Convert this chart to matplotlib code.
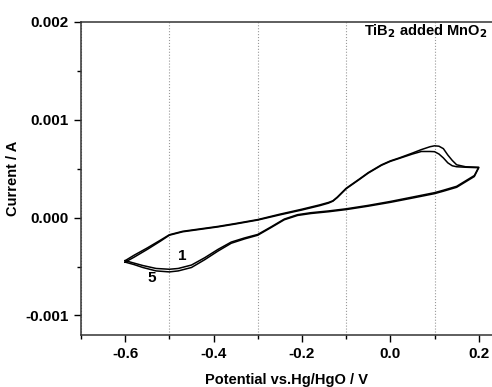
import numpy as np
import matplotlib
matplotlib.use("Agg")
import matplotlib.pyplot as plt
from matplotlib.ticker import MultipleLocator, FormatStrFormatter

plt.rcParams['font.family'] = ['Liberation Sans', 'DejaVu Sans']
plt.rcParams['font.weight'] = 'bold'
plt.rcParams['axes.unicode_minus'] = False

# anodic sweep (-0.6 -> 0.2 V), current in 1e-4 A
fwd_e = [-0.6, -0.58, -0.55, -0.52, -0.5, -0.47, -0.43, -0.39, -0.35, -0.3, -0.25,
         -0.2, -0.16, -0.14, -0.13, -0.12, -0.1, -0.07, -0.05, -0.02, 0.0, 0.02,
         0.05, 0.07, 0.09, 0.1, 0.11, 0.12, 0.13, 0.14, 0.15, 0.17, 0.2]
fwd_i1 = [-4.4, -3.85, -3.1, -2.3, -1.75, -1.4, -1.15, -0.9, -0.6, -0.2, 0.35,
          0.86, 1.3, 1.55, 1.72, 2.1, 3.0, 3.95, 4.6, 5.4, 5.8, 6.1,
          6.6, 6.95, 7.25, 7.34, 7.3, 7.05, 6.4, 5.85, 5.4, 5.2, 5.15]
fwd_i5 = [-4.55, -4.05, -3.25, -2.4, -1.8, -1.45, -1.2, -0.95, -0.65, -0.25, 0.28,
          0.78, 1.22, 1.48, 1.68, 2.05, 2.95, 3.9, 4.55, 5.35, 5.75, 6.05,
          6.5, 6.76, 6.76, 6.74, 6.5, 6.1, 5.6, 5.3, 5.2, 5.15, 5.1]

# cathodic sweep (0.2 -> -0.6 V)
rev_e = [0.2, 0.19, 0.17, 0.15, 0.12, 0.1, 0.05, 0.0, -0.05, -0.1, -0.14, -0.18,
         -0.21, -0.24, -0.27, -0.3, -0.33, -0.36, -0.39, -0.42, -0.45, -0.48,
         -0.5, -0.53, -0.56, -0.58, -0.6]
rev_i1 = [5.15, 4.3, 3.75, 3.2, 2.8, 2.55, 2.1, 1.65, 1.25, 0.9, 0.68, 0.5,
          0.3, -0.15, -0.95, -1.72, -2.08, -2.5, -3.25, -4.1, -4.85, -5.2,
          -5.28, -5.2, -4.9, -4.65, -4.4]
rev_i5 = [5.1, 4.2, 3.65, 3.1, 2.7, 2.45, 2.0, 1.56, 1.17, 0.82, 0.6, 0.42,
          0.22, -0.22, -1.02, -1.8, -2.18, -2.62, -3.42, -4.3, -5.1, -5.45,
          -5.55, -5.45, -5.1, -4.8, -4.55]

fig = plt.figure(figsize=(4.92, 3.87), dpi=100)
ax = fig.add_axes([0.1646, 0.1344, 0.8354, 0.8088])

for fi, ri in [(fwd_i1, rev_i1), (fwd_i5, rev_i5)]:
    e = fwd_e + rev_e[1:]
    cur = np.array(fi + ri[1:]) * 1e-4
    ax.plot(e, cur, color='black', lw=1.1)

ax.set_xlim(-0.7, 0.23)
ax.set_ylim(-0.0012, 0.002)
ax.xaxis.set_major_locator(MultipleLocator(0.2))
ax.xaxis.set_minor_locator(MultipleLocator(0.1))
ax.yaxis.set_major_locator(MultipleLocator(0.001))
ax.yaxis.set_minor_locator(MultipleLocator(0.0005))
ax.xaxis.set_major_formatter(FormatStrFormatter('%.1f'))
ax.yaxis.set_major_formatter(FormatStrFormatter('%.3f'))
ax.tick_params(which='major', direction='out', length=5, width=1, labelsize=11, pad=4)
ax.tick_params(which='minor', direction='out', length=3, width=1)
ax.tick_params(top=False, right=False)
ax.grid(True, which='minor', axis='x', color='#999999', ls=':', lw=0.8)
ax.spines['right'].set_visible(False)
for s in ['left', 'bottom', 'top']:
    ax.spines[s].set_linewidth(1.1)
    ax.spines[s].set_color('#333333')

ax.set_xlabel('Potential vs.Hg/HgO / V', fontsize=10.5, fontweight='bold', labelpad=8)
ax.set_ylabel('Current / A', fontsize=10.5, fontweight='bold', labelpad=4)

ax.text(-0.059, 0.00191, r'TiB$_\mathbf{2}$ added MnO$_\mathbf{2}$', ha='left', va='center',
        fontsize=10.5, fontweight='bold')
ax.text(-0.471, -0.000395, '1', fontsize=11, fontweight='bold', ha='center', va='center')
ax.text(-0.539, -0.00062, '5', fontsize=11, fontweight='bold', ha='center', va='center')

fig.savefig('out.png', dpi=100)
